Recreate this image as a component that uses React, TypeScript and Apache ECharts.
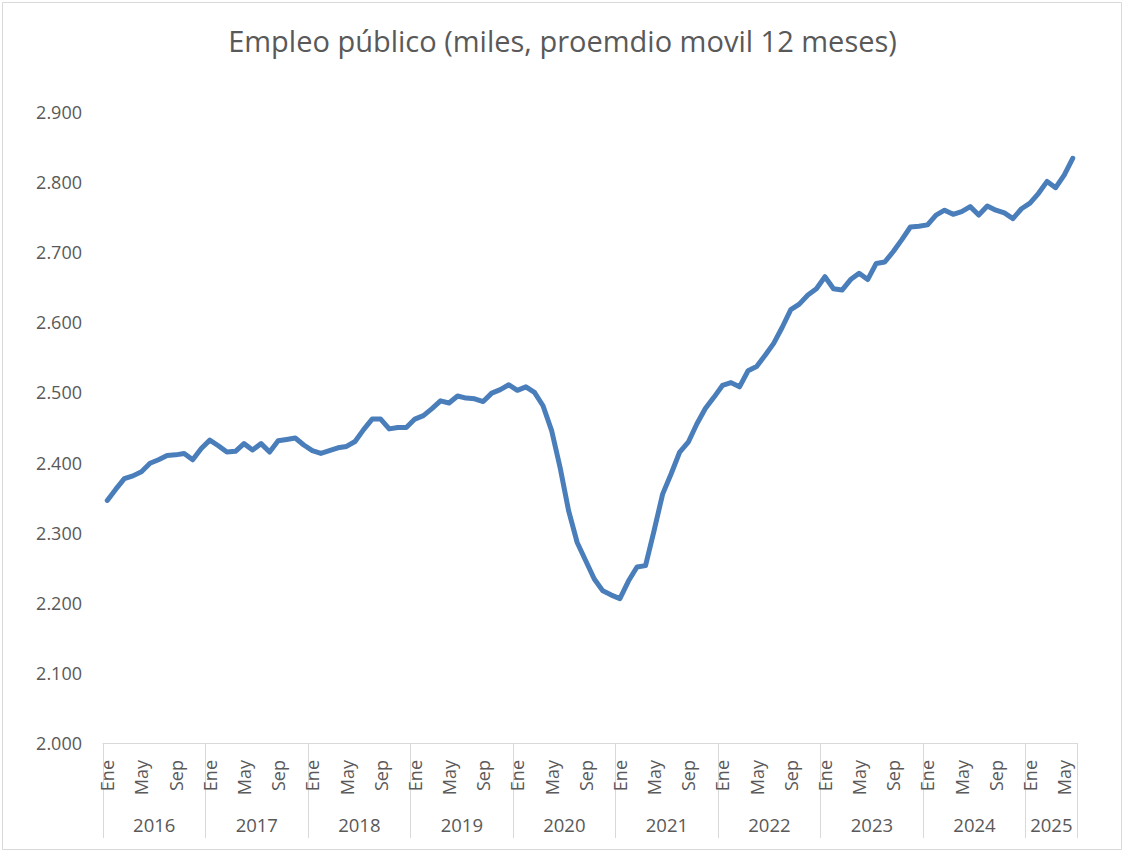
import React, { useEffect, useRef } from "react";
import * as echarts from "echarts";

// Empleo público, miles de personas (promedio móvil de 12 meses), enero 2016 – junio 2025
const monthAbbr = ["Ene", "Feb", "Mar", "Abr", "May", "Jun", "Jul", "Ago", "Sep", "Oct", "Nov", "Dic"];
const years = [2016, 2017, 2018, 2019, 2020, 2021, 2022, 2023, 2024, 2025];

const empleo2016 = [2346, 2362, 2377, 2381, 2387, 2399, 2404, 2410, 2411, 2413, 2404, 2420];
const empleo2017 = [2432, 2424, 2415, 2416, 2427, 2418, 2427, 2415, 2431, 2433, 2435, 2425];
const empleo2018 = [2417, 2413, 2417, 2421, 2423, 2430, 2447, 2462, 2462, 2448, 2450, 2450];
const empleo2019 = [2462, 2467, 2477, 2488, 2485, 2495, 2492, 2491, 2487, 2499, 2504, 2511];
const empleo2020 = [2503, 2508, 2500, 2481, 2446, 2393, 2331, 2286, 2260, 2234, 2217, 2211];
const empleo2021 = [2206, 2231, 2251, 2253, 2303, 2355, 2384, 2415, 2429, 2455, 2477, 2493];
const empleo2022 = [2510, 2514, 2508, 2531, 2537, 2553, 2570, 2593, 2618, 2626, 2639, 2648];
const empleo2023 = [2665, 2648, 2646, 2661, 2670, 2661, 2684, 2686, 2701, 2718, 2736, 2737];
const empleo2024 = [2739, 2753, 2760, 2754, 2758, 2765, 2753, 2766, 2760, 2756, 2748, 2762];
const empleo2025 = [2770, 2784, 2801, 2792, 2810, 2834];

const seriesByYear = [
  empleo2016, empleo2017, empleo2018, empleo2019, empleo2020,
  empleo2021, empleo2022, empleo2023, empleo2024, empleo2025,
];

// Month labels shown on the inner axis level
const shownMonths = ["Ene", "May", "Sep"];

const yAxisMin = 2000;
const yAxisMax = 2900;
const yAxisStep = 100;

const FONT = "'Open Sans', 'Noto Sans', sans-serif";
const TEXT = "#595959";
const RULE = "#d9d9d9";

const categories: string[] = [];
const monthOfCategory: string[] = [];
const values: number[] = [];
const yearBounds: number[] = [0];
const yearMids: number[] = [];
const yearOfMid: Record<string, number> = {};

seriesByYear.forEach((arr, yi) => {
  const start = yearBounds[yearBounds.length - 1];
  arr.forEach((v, m) => {
    categories.push(`${monthAbbr[m]} ${years[yi]}`);
    monthOfCategory.push(monthAbbr[m]);
    values.push(v);
  });
  const end = start + arr.length;
  yearBounds.push(end);
  const mid = (start + end) / 2;
  yearMids.push(mid);
  yearOfMid[String(mid)] = years[yi];
});

const formatMiles = (v: number) => {
  const whole = Math.floor(v / 1000);
  const rest = String(Math.round(v % 1000)).padStart(3, "0");
  return `${whole}.${rest}`;
};

export default function App() {
  const ref = useRef<HTMLDivElement>(null);

  useEffect(() => {
    if (!ref.current) return;
    const chart = echarts.init(ref.current, undefined, { renderer: "svg" });
    chart.setOption({
      animation: false,
      backgroundColor: "#ffffff",
      title: {
        text: "Empleo público (miles, proemdio movil 12 meses)",
        left: "center",
        top: 21,
        textStyle: { fontFamily: FONT, fontSize: 29, fontWeight: "normal", color: TEXT },
      },
      graphic: [
        {
          type: "rect",
          silent: true,
          z: -10,
          shape: { x: 2.5, y: 2.5, width: 1119, height: 847 },
          style: { fill: "none", stroke: RULE, lineWidth: 1 },
        },
      ],
      grid: { left: 103, right: 48, top: 112, bottom: 110, containLabel: false },
      xAxis: [
        {
          type: "category",
          data: categories,
          boundaryGap: true,
          axisLine: { show: true, lineStyle: { color: RULE, width: 1 } },
          axisTick: { show: false },
          splitLine: { show: false },
          axisLabel: {
            rotate: 90,
            margin: 17,
            interval: (index: number) => shownMonths.includes(monthOfCategory[index]),
            formatter: (_: string, index: number) => monthOfCategory[index],
            fontFamily: FONT,
            fontSize: 18,
            color: TEXT,
          },
        },
        {
          type: "value",
          position: "bottom",
          min: 0,
          max: yearBounds[yearBounds.length - 1],
          axisLine: { show: false },
          splitLine: { show: false },
          axisTick: {
            show: true,
            inside: false,
            length: 95,
            customValues: yearBounds,
            lineStyle: { color: RULE, width: 1 },
          },
          axisLabel: {
            show: true,
            margin: 72,
            customValues: yearMids,
            formatter: (v: number) => String(yearOfMid[String(v)] ?? ""),
            fontFamily: FONT,
            fontSize: 18.5,
            color: TEXT,
          },
        },
      ],
      yAxis: {
        type: "value",
        min: yAxisMin,
        max: yAxisMax,
        interval: yAxisStep,
        axisLine: { show: false },
        axisTick: { show: false },
        splitLine: { show: false },
        axisLabel: {
          margin: 21,
          formatter: (v: number) => formatMiles(v),
          fontFamily: FONT,
          fontSize: 18,
          color: TEXT,
        },
      },
      series: [
        {
          type: "line",
          name: "Empleo público",
          xAxisIndex: 0,
          data: values,
          showSymbol: false,
          smooth: false,
          lineStyle: { color: "#4a7ebb", width: 5, cap: "round", join: "round" },
        },
      ],
    });
    return () => chart.dispose();
  }, []);

  return (
    <div
      ref={ref}
      style={{ position: "absolute", left: 0, top: 0, width: 1125, height: 853 }}
    />
  );
}
